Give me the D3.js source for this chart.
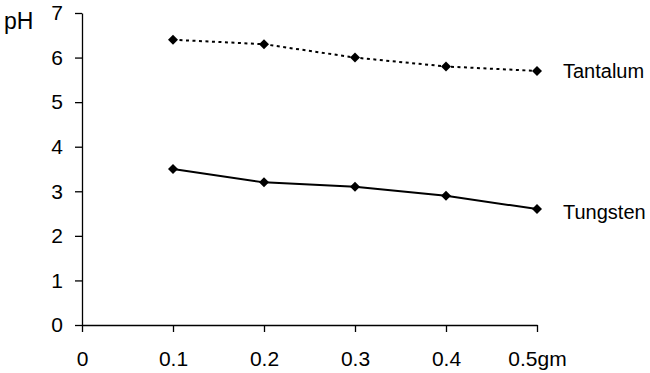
<!DOCTYPE html>
<html><head><meta charset="utf-8">
<script src="https://cdn.jsdelivr.net/npm/d3@7"></script>
<style>body{margin:0;background:#fff}svg{display:block}text{font-family:"Liberation Sans",Arial,sans-serif;fill:#000}</style>
</head><body><svg id="c" width="650" height="373"></svg>
<script>
const doses = [0.1, 0.2, 0.3, 0.4, 0.5];
const tantalum = [6.4, 6.3, 6.0, 5.8, 5.7];
const tungsten = [3.5, 3.2, 3.1, 2.9, 2.6];
const xTicks = [0, 0.1, 0.2, 0.3, 0.4, 0.5];
const xTickLabels = ["0", "0.1", "0.2", "0.3", "0.4", "0.5gm"];
const yTicks = [0, 1, 2, 3, 4, 5, 6, 7];
const seriesNames = ["Tantalum", "Tungsten"];

const svg = d3.select("#c");
const x = d3.scaleLinear().domain([0, 0.5]).range([82, 537]);
const y = d3.scaleLinear().domain([0, 7]).range([325, 13]);

const xAxis = d3.axisBottom(x).tickValues(xTicks).tickFormat((d,i)=>xTickLabels[i]).tickSize(7).tickSizeOuter(0).tickPadding(19);
const gx = svg.append("g").attr("transform", `translate(0,${y(0)})`).call(xAxis);
gx.selectAll("text").style("font-size","21px");
const yAxis = d3.axisLeft(y).tickValues(yTicks).tickFormat(d3.format("d")).tickSize(7).tickSizeOuter(0).tickPadding(12);
const gy = svg.append("g").attr("transform", `translate(${x(0)},0)`).call(yAxis);
gy.selectAll("text").style("font-size","21px");
svg.selectAll(".domain, .tick line").attr("stroke","#000").attr("stroke-width",1.3);

svg.append("text").attr("x", 4).attr("y", 29).style("font-size","23px").text("pH");

const line = d3.line().x((d,i)=>x(doses[i])).y(d=>y(d));
svg.append("path").datum(tantalum).attr("d", line).attr("fill","none").attr("stroke","#000").attr("stroke-width",2).attr("stroke-dasharray","3,3.5");
svg.append("path").datum(tungsten).attr("d", line).attr("fill","none").attr("stroke","#000").attr("stroke-width",2);

const sym = d3.symbol().type(d3.symbolSquare).size(50);
[tantalum, tungsten].forEach(s=>{
  svg.selectAll(null).data(s).enter().append("path")
    .attr("d", sym).attr("transform",(d,i)=>`translate(${x(doses[i])},${y(d)}) rotate(45)`)
    .attr("fill","#000");
});
svg.append("text").attr("x", 563).attr("y", 78).style("font-size","20px").text(seriesNames[0]);
svg.append("text").attr("x", 563).attr("y", 219).style("font-size","20px").text(seriesNames[1]);
</script></body></html>
